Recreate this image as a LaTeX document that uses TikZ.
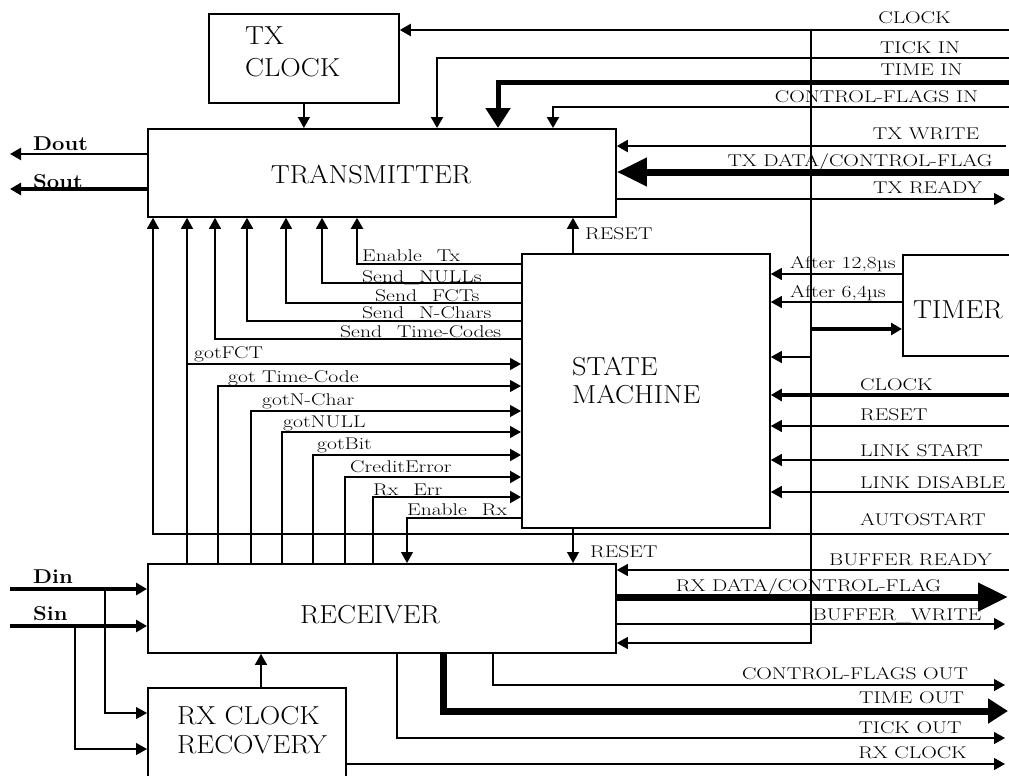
\documentclass[tikz,border=0pt]{standalone}
\usepackage{fontspec}
\usepackage{graphicx}
\usetikzlibrary{arrows.meta}
\newcommand\sxl[1]{\scalebox{1.27}[1]{#1}}
\newcommand\sxb[1]{\scalebox{1.09}[1]{#1}}
\newcommand\sxo[1]{\scalebox{1.1}[1]{#1}}
\tikzset{
  x=1pt, y=-1pt,
  box/.style={draw, line width=1.8pt, inner sep=0pt, anchor=north west},
  lwa/.style={line width=1.2pt},
  lwb/.style={line width=2.2pt},
  lwc/.style={line width=3.2pt},
  lwd/.style={line width=5pt},
  lwe/.style={line width=7pt},
  sa/.style={-{Triangle[length=11pt,width=12pt]}},
  bma/.style={-{Triangle[length=20pt,width=24pt]}},
  bba/.style={-{Triangle[length=30pt,width=27pt]}},
  lab/.style={font=\fontsize{17}{19}\selectfont, inner sep=0pt},
  boxlab/.style={font=\fontsize{26}{30}\selectfont, inner sep=0pt},
  iolab/.style={font=\fontsize{20}{24}\selectfont\bfseries, inner sep=0pt}
}
\begin{document}
\begin{tikzpicture}
\useasboundingbox (0,0) rectangle (1009,776);

% ---------- boxes ----------
\node[box, minimum width=190pt, minimum height=89pt] (txclk) at (208,13) {};
\node[box, minimum width=468pt, minimum height=88pt] (tx) at (147,128) {};
\node[box, minimum width=248pt, minimum height=274pt] (sm) at (521,253) {};
\node[box, minimum width=120pt, minimum height=101pt] (timer) at (902,254) {};
\node[box, minimum width=468pt, minimum height=89pt] (rx) at (147,563) {};
\node[box, minimum width=198pt, minimum height=92pt] (rxcr) at (147,687) {};

% ---------- box texts ----------
\node[boxlab, anchor=base west] (lTXa) at (245,45) {\sxb{TX}};
\node[boxlab, anchor=base west] (lTXb) at (245,77) {\sxb{CLOCK}};
\node[boxlab, anchor=base] (lTX) at (371,183) {\sxb{TRANSMITTER}};
\node[boxlab, anchor=base west] (lSMa) at (572,375) {\sxb{STATE}};
\node[boxlab, anchor=base west] (lSMb) at (572,403) {\sxb{MACHINE}};
\node[boxlab, anchor=base west] (lTM) at (913,318) {\sxb{TIMER}};
\node[boxlab, anchor=base] (lRX) at (370,623) {\sxb{RECEIVER}};
\node[boxlab, anchor=base west] (lRCa) at (177,724) {\sxb{RX CLOCK}};
\node[boxlab, anchor=base west] (lRCb) at (177,753) {\sxb{RECOVERY}};

% ---------- coordinates (free ends and bends) ----------
\coordinate (eCLK) at (1009,30);
\coordinate (bTop) at (811,30);
\coordinate (bBot) at (811,643);
\coordinate (bTim) at (811,329);
\coordinate (bSM) at (811,357);
\coordinate (eTICK) at (1009,58);  \coordinate (cTICK) at (437,58);
\coordinate (eTIME) at (1009,82);  \coordinate (cTIME) at (498,82);
\coordinate (eCFI) at (1009,107);  \coordinate (cCFI) at (553,107);
\coordinate (eTXW) at (1006,146);
\coordinate (eTXD) at (1009,172);
\coordinate (eTXR) at (1005,199);
\coordinate (eDout) at (10,154);
\coordinate (eSout) at (10,189);
\coordinate (eAUTO) at (1009,534); \coordinate (cAUTO) at (153,534);
\coordinate (cFCT) at (187,364);
\coordinate (cSTC) at (215,339);
\coordinate (cSNC) at (247,321);
\coordinate (cSFC) at (286,303);
\coordinate (cSNU) at (322,283);
\coordinate (cETX) at (357,264);
\coordinate (cRST) at (573,0);
\coordinate (cGTC) at (218,386);
\coordinate (cGNC) at (251,411);
\coordinate (cGNU) at (282,432);
\coordinate (cGBT) at (313,455);
\coordinate (cCRE) at (345,477);
\coordinate (cRXE) at (373,497);
\coordinate (cERX) at (407,518);
\coordinate (cA12) at (0,274);
\coordinate (cA64) at (0,302);
\coordinate (eCLK2) at (1009,395);
\coordinate (eRST) at (1009,426);
\coordinate (eLST) at (1009,460);
\coordinate (eLDS) at (1009,492);
\coordinate (eBRD) at (1009,570);
\coordinate (eRXD) at (1008,597);
\coordinate (eBWR) at (1005,624);
\coordinate (eDin) at (10,589);  \coordinate (jDin) at (105,589);
\coordinate (eSin) at (10,626);  \coordinate (jSin) at (75,626);
\coordinate (cRCa) at (0,713);
\coordinate (cRCb) at (0,749);
\coordinate (cRCR) at (261,0);
\coordinate (cTKO) at (397,738);  \coordinate (eTKO) at (1005,738);
\coordinate (cTMO) at (443,711);  \coordinate (eTMO) at (1008,711);
\coordinate (cCFO) at (493,685);  \coordinate (eCFO) at (1005,685);
\coordinate (eRXC) at (1005,764);

% ---------- top inputs ----------
\draw[lwb, sa] (eCLK) -- (eCLK -| txclk.east);
\draw[lwa, sa] (bTop) -- (bBot) -- (bBot -| rx.east);
\draw[lwc, sa] (bTim) -- (bTim -| timer.west);
\draw[lwa, sa] (bSM) -- (bSM -| sm.east);
\draw[lwa, sa] (txclk.south) -- (tx.north -| txclk.south);
\draw[lwb, sa] (eTICK) -- (cTICK) -- (tx.north -| cTICK);
\draw[lwd, bma] (eTIME) -- (cTIME) -- (tx.north -| cTIME);
\draw[lwb, sa] (eCFI) -- (cCFI) -- (tx.north -| cCFI);
\draw[lwb, sa] (eTXW) -- (eTXW -| tx.east);
\draw[lwe, bba] (eTXD) -- (eTXD -| tx.east);
\draw[lwa, sa] (eTXR -| tx.east) -- (eTXR);
\draw[lwb, sa] (eDout -| tx.west) -- (eDout);
\draw[lwc, sa] (eSout -| tx.west) -- (eSout);

% ---------- transmitter bottom ----------
\draw[lwa, sa] (eAUTO) -- (cAUTO) -- (tx.south -| cAUTO);
\draw[lwa, sa] (rx.north -| cFCT) -- (tx.south -| cFCT);
\draw[lwa, sa] (cFCT) -- (cFCT -| sm.west);
\draw[lwa, sa] (cSTC -| sm.west) -- (cSTC) -- (tx.south -| cSTC);
\draw[lwb, sa] (cSNC -| sm.west) -- (cSNC) -- (tx.south -| cSNC);
\draw[lwa, sa] (cSFC -| sm.west) -- (cSFC) -- (tx.south -| cSFC);
\draw[lwa, sa] (cSNU -| sm.west) -- (cSNU) -- (tx.south -| cSNU);
\draw[lwb, sa] (cETX -| sm.west) -- (cETX) -- (tx.south -| cETX);
\draw[lwa, sa] (sm.north -| cRST) -- (tx.south -| cRST);
\draw[lwa, sa] (sm.south -| cRST) -- (rx.north -| cRST);

% ---------- receiver to state machine ----------
\draw[lwa, sa] (rx.north -| cGTC) -- (cGTC) -- (cGTC -| sm.west);
\draw[lwa, sa] (rx.north -| cGNC) -- (cGNC) -- (cGNC -| sm.west);
\draw[lwa, sa] (rx.north -| cGNU) -- (cGNU) -- (cGNU -| sm.west);
\draw[lwb, sa] (rx.north -| cGBT) -- (cGBT) -- (cGBT -| sm.west);
\draw[lwb, sa] (rx.north -| cCRE) -- (cCRE) -- (cCRE -| sm.west);
\draw[lwb, sa] (rx.north -| cRXE) -- (cRXE) -- (cRXE -| sm.west);
\draw[lwa, sa] (cERX -| sm.west) -- (cERX) -- (rx.north -| cERX);

% ---------- state machine right ----------
\draw[lwa, sa] (timer.west |- cA12) -- (sm.east |- cA12);
\draw[lwa, sa] (timer.west |- cA64) -- (sm.east |- cA64);
\draw[lwc, sa] (eCLK2) -- (eCLK2 -| sm.east);
\draw[lwa, sa] (eRST) -- (eRST -| sm.east);
\draw[lwa, sa] (eLST) -- (eLST -| sm.east);
\draw[lwa, sa] (eLDS) -- (eLDS -| sm.east);

% ---------- receiver right ----------
\draw[lwa, sa] (eBRD) -- (eBRD -| rx.east);
\draw[lwe, bba] (eRXD -| rx.east) -- (eRXD);
\draw[lwa, sa] (eBWR -| rx.east) -- (eBWR);

% ---------- receiver left ----------
\draw[lwc, sa] (eDin) -- (eDin -| rx.west);
\draw[lwa, sa] (jDin) |- (rxcr.west |- cRCa);
\draw[lwc, sa] (eSin) -- (eSin -| rx.west);
\draw[lwa, sa] (jSin) |- (rxcr.west |- cRCb);
\draw[lwa, sa] (rxcr.north -| cRCR) -- (rx.south -| cRCR);

% ---------- receiver bottom ----------
\draw[lwa, sa] (rx.south -| cTKO) -- (cTKO) -- (eTKO);
\draw[lwe, bma] (rx.south -| cTMO) -- (cTMO) -- (eTMO);
\draw[lwa, sa] (rx.south -| cCFO) -- (cCFO) -- (eCFO);
\draw[lwa, sa] (rxcr.east |- eRXC) -- (eRXC);

% ---------- labels ----------
\node[lab, anchor=base] (tCLK) at (914.5,24) {\sxl{CLOCK}};
\node[lab, anchor=base] (tTICK) at (920,53) {\sxl{TICK IN}};
\node[lab, anchor=base] (tTIME) at (921.5,75) {\sxl{TIME IN}};
\node[lab, anchor=base] (tCFI) at (876.5,102) {\sxl{CONTROL-FLAGS IN}};
\node[lab, anchor=base] (tTXW) at (926,139) {\sxl{TX WRITE}};
\node[lab, anchor=base] (tTXD) at (860,166) {\sxl{TX DATA/CONTROL-FLAG}};
\node[lab, anchor=base] (tTXR) at (927.5,193) {\sxl{TX READY}};
\node[lab, anchor=base west] (tRSTa) at (585,239) {\sxl{RESET}};
\node[lab, anchor=base west] (tRSTb) at (590,557) {\sxl{RESET}};
\node[lab, anchor=base west] (tA12) at (790,268) {\sxl{After 12,8µs}};
\node[lab, anchor=base west] (tA64) at (790,297) {\sxl{After 6,4µs}};
\node[lab, anchor=base west] (tCLK2) at (860,390) {\sxl{CLOCK}};
\node[lab, anchor=base west] (tRST) at (860,420) {\sxl{RESET}};
\node[lab, anchor=base west] (tLST) at (860,456) {\sxl{LINK START}};
\node[lab, anchor=base west] (tLDS) at (860,488) {\sxl{LINK DISABLE}};
\node[lab, anchor=base west] (tAUTO) at (860,525) {\sxl{AUTOSTART}};
\node[lab, anchor=base] (tBRD) at (910.5,565) {\sxl{BUFFER READY}};
\node[lab, anchor=base] (tRXD) at (808.5,591) {\sxl{RX DATA/CONTROL-FLAG}};
\node[lab, anchor=base] (tBWR) at (897,620) {\sxl{BUFFER\_WRITE}};
\node[lab, anchor=base] (tCFO) at (855,679) {\sxl{CONTROL-FLAGS OUT}};
\node[lab, anchor=base] (tTMO) at (911.5,703) {\sxl{TIME OUT}};
\node[lab, anchor=base] (tTKO) at (910,733) {\sxl{TICK OUT}};
\node[lab, anchor=base] (tRXC) at (912.5,758) {\sxl{RX CLOCK}};

\node[lab, anchor=base west] (tETX) at (362,261) {\sxl{Enable\_Tx}};
\node[lab, anchor=base west] (tSNU) at (362,282) {\sxl{Send\_NULLs}};
\node[lab, anchor=base west] (tSFC) at (375,301) {\sxl{Send\_FCTs}};
\node[lab, anchor=base west] (tSNC) at (362,318) {\sxl{Send\_N-Chars}};
\node[lab, anchor=base west] (tSTC) at (340,337) {\sxl{Send\_Time-Codes}};
\node[lab, anchor=base west] (tFCT) at (194,358) {\sxl{gotFCT}};
\node[lab, anchor=base west] (tGTC) at (228,382) {\sxl{got Time-Code}};
\node[lab, anchor=base west] (tGNC) at (262,405) {\sxl{gotN-Char}};
\node[lab, anchor=base west] (tGNU) at (283,427) {\sxl{gotNULL}};
\node[lab, anchor=base west] (tGBT) at (317,449) {\sxl{gotBit}};
\node[lab, anchor=base west] (tCRE) at (350,472) {\sxl{CreditError}};
\node[lab, anchor=base west] (tRXE) at (373,495) {\sxl{Rx\_Err}};
\node[lab, anchor=base west] (tERX) at (407,515) {\sxl{Enable\_Rx}};

\node[iolab, anchor=base west] (tDout) at (33,150) {\sxo{Dout}};
\node[iolab, anchor=base west] (tSout) at (33,188) {\sxo{Sout}};
\node[iolab, anchor=base west] (tDin) at (33,583) {\sxo{Din}};
\node[iolab, anchor=base west] (tSin) at (33,620) {\sxo{Sin}};
\end{tikzpicture}
\end{document}
